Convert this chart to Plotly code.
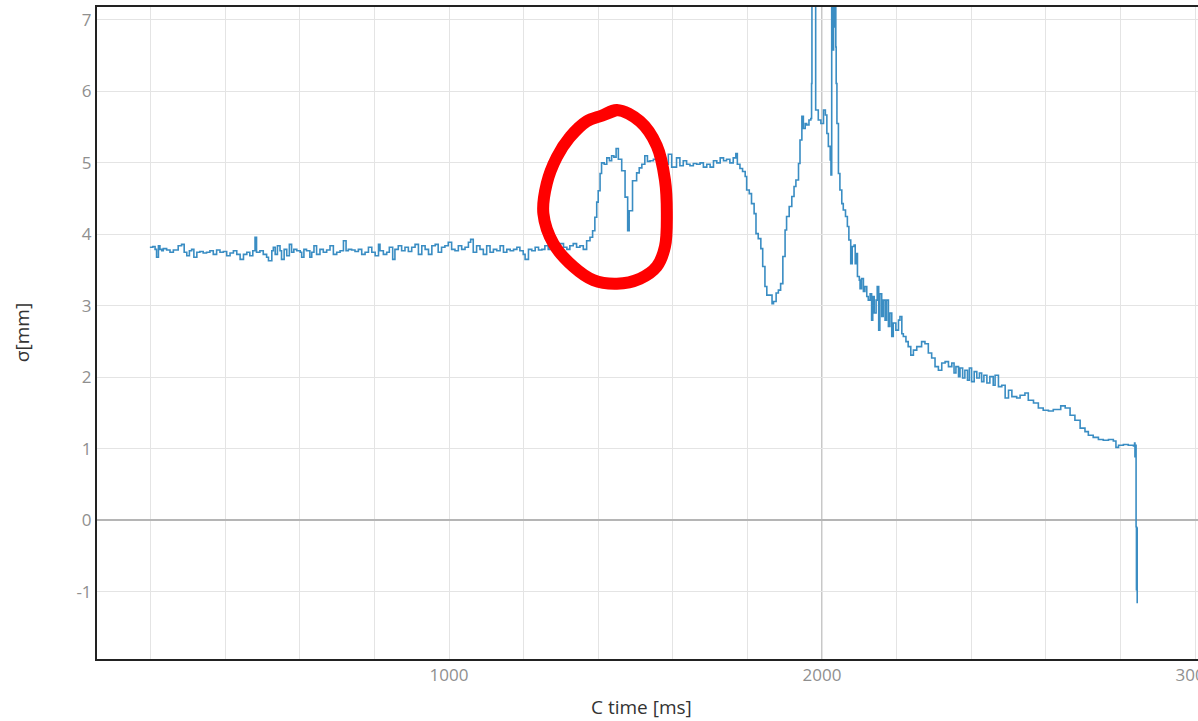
import plotly.graph_objects as go

# ---- data (time in ms, sigma in mm) ----
base1_ms = [198, 206, 212, 216, 221, 225, 230, 234, 243, 252, 261, 274, 283, 290, 297, 304, 310, 316, 324, 332,
            341, 350, 359, 368, 377, 386, 395, 404, 413, 422, 431, 440, 449, 458, 466, 474, 480, 484, 493, 502,
            511, 516, 525, 529, 534, 540, 547, 551, 558, 565, 572, 578, 584, 592, 601, 605, 611, 618, 627, 632,
            638, 645, 654, 663, 672, 681, 690, 699, 708, 717, 724, 730]
base1_mm = [3.82, 3.83, 3.79, 3.68, 3.84, 3.79, 3.77, 3.80, 3.78, 3.75, 3.78, 3.84, 3.86, 3.75, 3.70, 3.77, 3.79, 3.68, 3.75, 3.76,
            3.74, 3.75, 3.77, 3.72, 3.78, 3.75, 3.76, 3.70, 3.74, 3.77, 3.72, 3.65, 3.72, 3.75, 3.70, 3.77, 3.96, 3.75, 3.77, 3.72,
            3.68, 3.63, 3.77, 3.82, 3.72, 3.84, 3.77, 3.65, 3.79, 3.70, 3.86, 3.75, 3.79, 3.77, 3.75, 3.68, 3.79, 3.77, 3.68, 3.75,
            3.84, 3.72, 3.79, 3.75, 3.78, 3.84, 3.72, 3.75, 3.77, 3.91, 3.77, 3.79]

base2_ms = [739, 748, 757, 766, 775, 784, 793, 802, 811, 815, 824, 833, 840, 849, 855, 864, 873, 882, 891, 900,
            909, 918, 927, 936, 945, 954, 963, 971, 980, 989, 998, 1007, 1016, 1025, 1034, 1043, 1052, 1058, 1065, 1074,
            1083, 1092, 1101, 1110, 1119, 1128, 1137, 1146, 1155, 1164, 1173, 1182, 1190, 1199, 1204, 1213, 1222, 1231, 1240, 1249,
            1257, 1266, 1271, 1284, 1298, 1307, 1316, 1324, 1333, 1342, 1351, 1360, 1369, 1378]
base2_mm = [3.78, 3.76, 3.79, 3.72, 3.75, 3.82, 3.75, 3.70, 3.86, 3.77, 3.72, 3.75, 3.82, 3.65, 3.79, 3.84, 3.77, 3.82, 3.76, 3.82,
            3.86, 3.72, 3.84, 3.79, 3.72, 3.84, 3.86, 3.75, 3.82, 3.84, 3.89, 3.79, 3.77, 3.84, 3.79, 3.82, 3.89, 3.93, 3.75, 3.84,
            3.79, 3.72, 3.84, 3.75, 3.79, 3.77, 3.84, 3.75, 3.79, 3.77, 3.79, 3.82, 3.77, 3.72, 3.65, 3.79, 3.77, 3.82, 3.78, 3.79,
            3.84, 3.79, 3.84, 3.79, 3.87, 3.82, 3.79, 3.84, 3.87, 3.82, 3.84, 3.79, 3.91, 3.96]

hump_ms = [1385, 1391, 1396, 1400, 1405, 1409, 1416, 1423, 1430, 1436, 1442, 1448, 1454, 1463, 1472, 1479, 1483, 1492, 1503, 1510,
           1517, 1525, 1532, 1539, 1548, 1557, 1566, 1575, 1588, 1597, 1610, 1619, 1628, 1637, 1646, 1655, 1664, 1673, 1682, 1691,
           1700, 1709, 1718, 1727, 1736, 1744, 1753, 1762, 1769, 1773]
hump_mm = [4.05, 4.24, 4.45, 4.61, 4.85, 5.00, 4.98, 5.07, 5.03, 5.10, 5.08, 5.20, 5.05, 4.89, 4.52, 4.05, 4.33, 4.75, 4.86, 4.93,
           4.98, 5.10, 5.02, 5.03, 5.05, 5.00, 5.07, 4.98, 5.12, 4.94, 5.07, 4.96, 5.03, 4.98, 4.96, 4.99, 4.98, 5.00, 4.94, 4.98,
           4.94, 5.03, 5.00, 5.07, 5.03, 5.05, 5.00, 5.07, 5.13, 4.98]

valley_ms = [1780, 1787, 1794, 1798, 1805, 1811, 1818, 1823, 1829, 1836, 1841, 1847, 1852, 1861, 1866, 1870, 1877, 1883, 1889, 1895,
             1901, 1905, 1912, 1919, 1925, 1930, 1937, 1941, 1946, 1950, 1955, 1959, 1965, 1970, 1972, 1973, 1983, 1984, 1990, 1997,
             2004, 2009, 2013, 2017, 2022, 2024, 2026, 2029, 2031, 2033, 2035, 2037, 2038, 2040, 2044, 2048, 2053, 2057, 2063, 2068,
             2072, 2077, 2081, 2086, 2089, 2093]
valley_mm = [4.92, 4.88, 4.81, 4.62, 4.57, 4.43, 4.29, 4.01, 3.94, 3.80, 3.55, 3.27, 3.15, 3.15, 3.03, 3.06, 3.18, 3.22, 3.31, 3.69,
             4.06, 4.25, 4.39, 4.53, 4.67, 4.76, 4.99, 5.32, 5.65, 5.48, 5.55, 5.53, 5.60, 5.62, 6.11, 9.00, 5.74, 5.74, 5.60, 5.55,
             5.74, 5.67, 5.41, 5.23, 5.04, 4.83, 9.00, 6.58, 9.00, 6.90, 9.00, 6.62, 6.11, 5.55, 4.85, 4.62, 4.43, 4.34, 4.25, 4.11,
             3.92, 3.59, 3.83, 3.85, 3.59, 3.73]

decay_ms = [2095, 2100, 2102, 2106, 2111, 2115, 2120, 2124, 2129, 2133, 2136, 2140, 2145, 2148, 2152, 2155, 2160, 2164, 2169, 2173,
            2178, 2182, 2187, 2191, 2198, 2205, 2209, 2214, 2218, 2225, 2231, 2238, 2245, 2254, 2267, 2276, 2285, 2294, 2303, 2312,
            2321, 2330, 2339, 2348, 2354, 2359, 2366, 2370, 2377, 2383, 2390, 2395, 2401, 2408, 2415, 2422, 2428, 2434, 2442, 2450,
            2459, 2464, 2473, 2482, 2491, 2500, 2509, 2522, 2531, 2544, 2553, 2567, 2580, 2593, 2607, 2620, 2634, 2640, 2652, 2665,
            2678, 2692, 2705, 2714, 2727, 2741, 2754, 2768, 2781, 2788, 2795, 2808, 2821, 2835]
decay_mm = [3.41, 3.36, 3.24, 3.38, 3.20, 3.27, 3.13, 3.08, 3.17, 2.80, 3.13, 2.90, 3.08, 3.27, 2.66, 3.17, 2.85, 3.08, 2.80, 3.08,
            2.71, 2.90, 2.57, 2.76, 2.66, 2.80, 2.85, 2.61, 2.57, 2.50, 2.43, 2.31, 2.38, 2.43, 2.50, 2.47, 2.34, 2.27, 2.15, 2.10,
            2.20, 2.22, 2.15, 2.20, 2.06, 2.15, 2.01, 2.13, 1.99, 2.10, 1.96, 2.13, 1.94, 2.08, 1.99, 2.06, 1.94, 2.03, 1.92, 2.01,
            1.89, 2.03, 1.87, 1.89, 1.71, 1.82, 1.73, 1.71, 1.75, 1.78, 1.68, 1.64, 1.57, 1.54, 1.53, 1.55, 1.55, 1.60, 1.57, 1.47,
            1.40, 1.29, 1.24, 1.19, 1.16, 1.13, 1.12, 1.13, 1.11, 1.02, 1.05, 1.06, 1.05, 1.04]

tail_ms = [2838, 2839, 2841, 2842, 2843, 2844, 2845]
tail_mm = [1.08, 0.89, 1.05, -0.09, -0.97, -0.11, -1.16]

# hand-drawn red highlight loop (annotation), traced a little past its start so the spline closes smoothly
circle_ms = [1324, 1369, 1410, 1450, 1512, 1557, 1579, 1584, 1579, 1557, 1512, 1450, 1387, 1333, 1280, 1253, 1262, 1289, 1324, 1369, 1410, 1450]
circle_mm = [5.36, 5.58, 5.66, 5.74, 5.58, 5.24, 4.76, 4.29, 3.83, 3.55, 3.38, 3.31, 3.36, 3.55, 3.87, 4.29, 4.71, 5.08, 5.36, 5.58, 5.66, 5.74]

y_tickvals = [-1, 0, 1, 2, 3, 4, 5, 6, 7]
y_ticktext = ["-1", "0", "1", "2", "3", "4", "5", "6", "7"]
x_tickvals = [1000, 2000, 3000]
x_ticktext = ["1000", "2000", "3000"]

x_title = "C time [ms]"
y_title = "σ[mm]"

time_ms = base1_ms + base2_ms + hump_ms + valley_ms + decay_ms + tail_ms
sigma_mm = base1_mm + base2_mm + hump_mm + valley_mm + decay_mm + tail_mm

fig = go.Figure()
fig.add_trace(go.Scatter(x=time_ms, y=sigma_mm, mode="lines",
                         line=dict(color="#3a8dc3", width=1.6, shape="hv"),
                         showlegend=False, hoverinfo="skip"))
fig.add_trace(go.Scatter(x=circle_ms, y=circle_mm, mode="lines",
                         line=dict(color="#ff0000", width=12, shape="spline", smoothing=1.0),
                         showlegend=False, hoverinfo="skip"))

fig.add_shape(type="line", x0=2000, x1=2000, y0=0, y1=1, xref="x", yref="paper",
              line=dict(color="#b5b5b5", width=1.5), layer="below")

grid = "#e4e4e4"
fig.update_layout(
    width=1198, height=721,
    margin=dict(l=97, r=0, t=7, b=62, autoexpand=False),
    paper_bgcolor="white", plot_bgcolor="white",
    font=dict(family="Open Sans, sans-serif"),
    xaxis=dict(range=[56.3, 3008], tickmode="array", tickvals=x_tickvals, ticktext=x_ticktext,
               automargin=False,
               showgrid=True, gridcolor=grid, gridwidth=1,
               minor=dict(tick0=0, dtick=200, showgrid=True, gridcolor=grid, gridwidth=1),
               zeroline=False, showline=True, linecolor="#222", linewidth=2, mirror=True,
               ticks="", ticklabeloverflow="allow", tickfont=dict(size=17, color="#8f8f8f")),
    yaxis=dict(range=[-1.94, 7.18], tickmode="array", tickvals=y_tickvals, ticktext=y_ticktext,
               automargin=False,
               showgrid=True, gridcolor=grid, gridwidth=1,
               zeroline=True, zerolinecolor="#b5b5b5", zerolinewidth=1.5,
               showline=True, linecolor="#222", linewidth=2, mirror=True,
               ticks="", tickfont=dict(size=17, color="#8f8f8f")),
    annotations=[
        dict(text=x_title, x=0.495, y=-0.074, xref="paper", yref="paper", showarrow=False,
             xanchor="center", yanchor="middle", font=dict(size=19, color="#333")),
        dict(text=y_title, x=-0.068, y=0.5, xref="paper", yref="paper", showarrow=False, textangle=-90,
             xanchor="center", yanchor="middle", font=dict(size=19, color="#333")),
    ],
)

fig.write_html("out.html")
